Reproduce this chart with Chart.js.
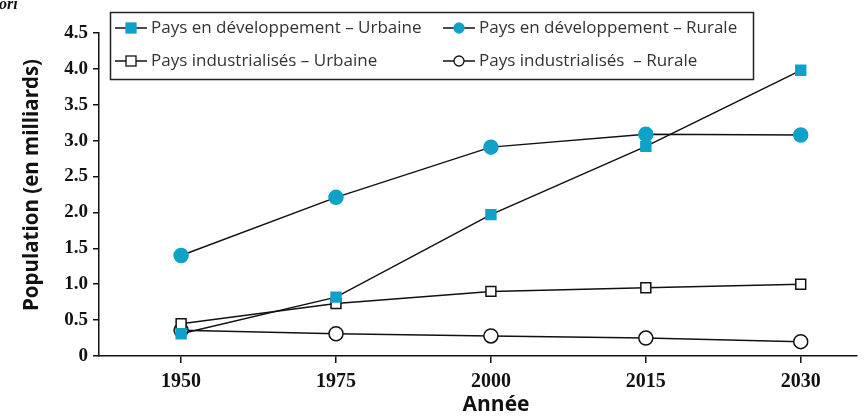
<!DOCTYPE html>
<html>
<head>
<meta charset="utf-8">
<script src="https://cdn.jsdelivr.net/npm/chart.js@4"></script>
<style>
  html, body { margin: 0; padding: 0; background: #fff; }
  #wrap { width: 865px; height: 418px; position: relative; }
</style>
</head>
<body>
<div id="wrap"><canvas id="popChart"></canvas></div>
<script>
const years = ['1950', '1975', '2000', '2015', '2030'];
const devUrban = [0.31, 0.82, 1.97, 2.92, 3.98];
const devRural = [1.40, 2.21, 2.91, 3.09, 3.08];
const indUrban = [0.45, 0.73, 0.90, 0.95, 1.00];
const indRural = [0.36, 0.31, 0.28, 0.25, 0.20];
const yTicks = [0, 0.5, 1.0, 1.5, 2.0, 2.5, 3.0, 3.5, 4.0, 4.5];

const blue = '#0fa2c9';
const toPoints = arr => arr.map((v, i) => ({ x: i, y: v }));

// legend box + axis titles, placed where the original figure has them
const boxLegend = {
    id: 'boxLegend',
    afterDraw(chart) {
        const ctx = chart.ctx;
        ctx.save();
        ctx.strokeStyle = '#222';
        ctx.lineWidth = 1.5;
        ctx.strokeRect(110.5, 12.5, 643, 67);
        const slots = [[115, 28], [115, 61], [443, 28], [443, 61]];
        chart.data.datasets.forEach((ds, i) => {
            const [x, y] = slots[i];
            ctx.strokeStyle = '#111';
            ctx.lineWidth = 1.5;
            ctx.beginPath();
            ctx.moveTo(x, y);
            ctx.lineTo(x + 32, y);
            ctx.stroke();
            const cx = x + 16;
            ctx.fillStyle = ds.pointBackgroundColor;
            ctx.strokeStyle = ds.pointBorderColor;
            ctx.lineWidth = 1.3;
            if (ds.pointStyle === 'rect') {
                ctx.fillRect(cx - 5, y - 5, 10, 10);
                ctx.strokeRect(cx - 5, y - 5, 10, 10);
            } else {
                ctx.beginPath();
                ctx.arc(cx, y, 5, 0, Math.PI * 2);
                ctx.fill();
                ctx.stroke();
            }
            ctx.fillStyle = '#333';
            ctx.font = '17px "Open Sans"';
            ctx.textBaseline = 'middle';
            ctx.fillText(ds.label, x + 36, y);
        });

        ctx.fillStyle = '#111';
        ctx.textAlign = 'center';
        ctx.textBaseline = 'middle';
        ctx.font = 'bold 21px "Open Sans"';
        ctx.fillText('Année', 496, 405);
        ctx.translate(32, 185);
        ctx.rotate(-Math.PI / 2);
        ctx.font = 'bold 20.5px "Open Sans"';
        ctx.fillText('Population (en milliards)', 0, 0);
        ctx.setTransform(1, 0, 0, 1, 0, 0);

        ctx.textAlign = 'left';
        ctx.textBaseline = 'alphabetic';
        ctx.font = 'italic bold 16px "Liberation Serif"';
        ctx.fillText('ori', -1, 9);
        ctx.restore();
    }
};

function series(label, data, style, fill, border) {
    return {
        label: label,
        data: toPoints(data),
        borderColor: '#111',
        borderWidth: 1.5,
        pointStyle: style,
        pointRadius: 7,
        pointBackgroundColor: fill,
        pointBorderColor: border,
        pointBorderWidth: 1.5,
        tension: 0,
        fill: false
    };
}

new Chart(document.getElementById('popChart'), {
    type: 'line',
    data: {
        datasets: [
            series('Pays en développement – Urbaine', devUrban, 'rect', blue, blue),
            series('Pays industrialisés – Urbaine', indUrban, 'rect', '#fff', '#111'),
            series('Pays en développement – Rurale', devRural, 'circle', blue, blue),
            series('Pays industrialisés  – Rurale', indRural, 'circle', '#fff', '#111')
        ]
    },
    options: {
        responsive: true,
        maintainAspectRatio: false,
        animation: false,
        layout: { padding: { top: 33, right: 0, left: 0, bottom: 0 } },
        plugins: {
            legend: { display: false },
            tooltip: { enabled: false }
        },
        scales: {
            x: {
                type: 'linear',
                min: -0.53,
                max: 4.36,
                afterBuildTicks: axis => { axis.ticks = years.map((y, i) => ({ value: i })); },
                afterFit: axis => { axis.height = 62; },
                ticks: {
                    callback: (v) => years[v],
                    color: '#111',
                    font: { family: '"Liberation Serif"', weight: 'bold', size: 20 },
                    padding: 7
                },
                grid: { drawOnChartArea: false, color: '#111', tickLength: 7, lineWidth: 1.5 },
                border: { color: '#111', width: 1.5 }
            },
            y: {
                min: 0,
                max: 4.5,
                afterBuildTicks: axis => { axis.ticks = yTicks.map(v => ({ value: v })); },
                afterFit: axis => { axis.width = 99; },
                ticks: {
                    callback: v => v === 0 ? '0' : v.toFixed(1),
                    color: '#111',
                    font: { family: '"Liberation Serif"', weight: 'bold', size: 19 },
                    padding: 5
                },
                grid: { drawOnChartArea: false, color: '#111', tickLength: 6, lineWidth: 1.5 },
                border: { color: '#111', width: 1.5 }
            }
        }
    },
    plugins: [boxLegend]
});
</script>
</body>
</html>
